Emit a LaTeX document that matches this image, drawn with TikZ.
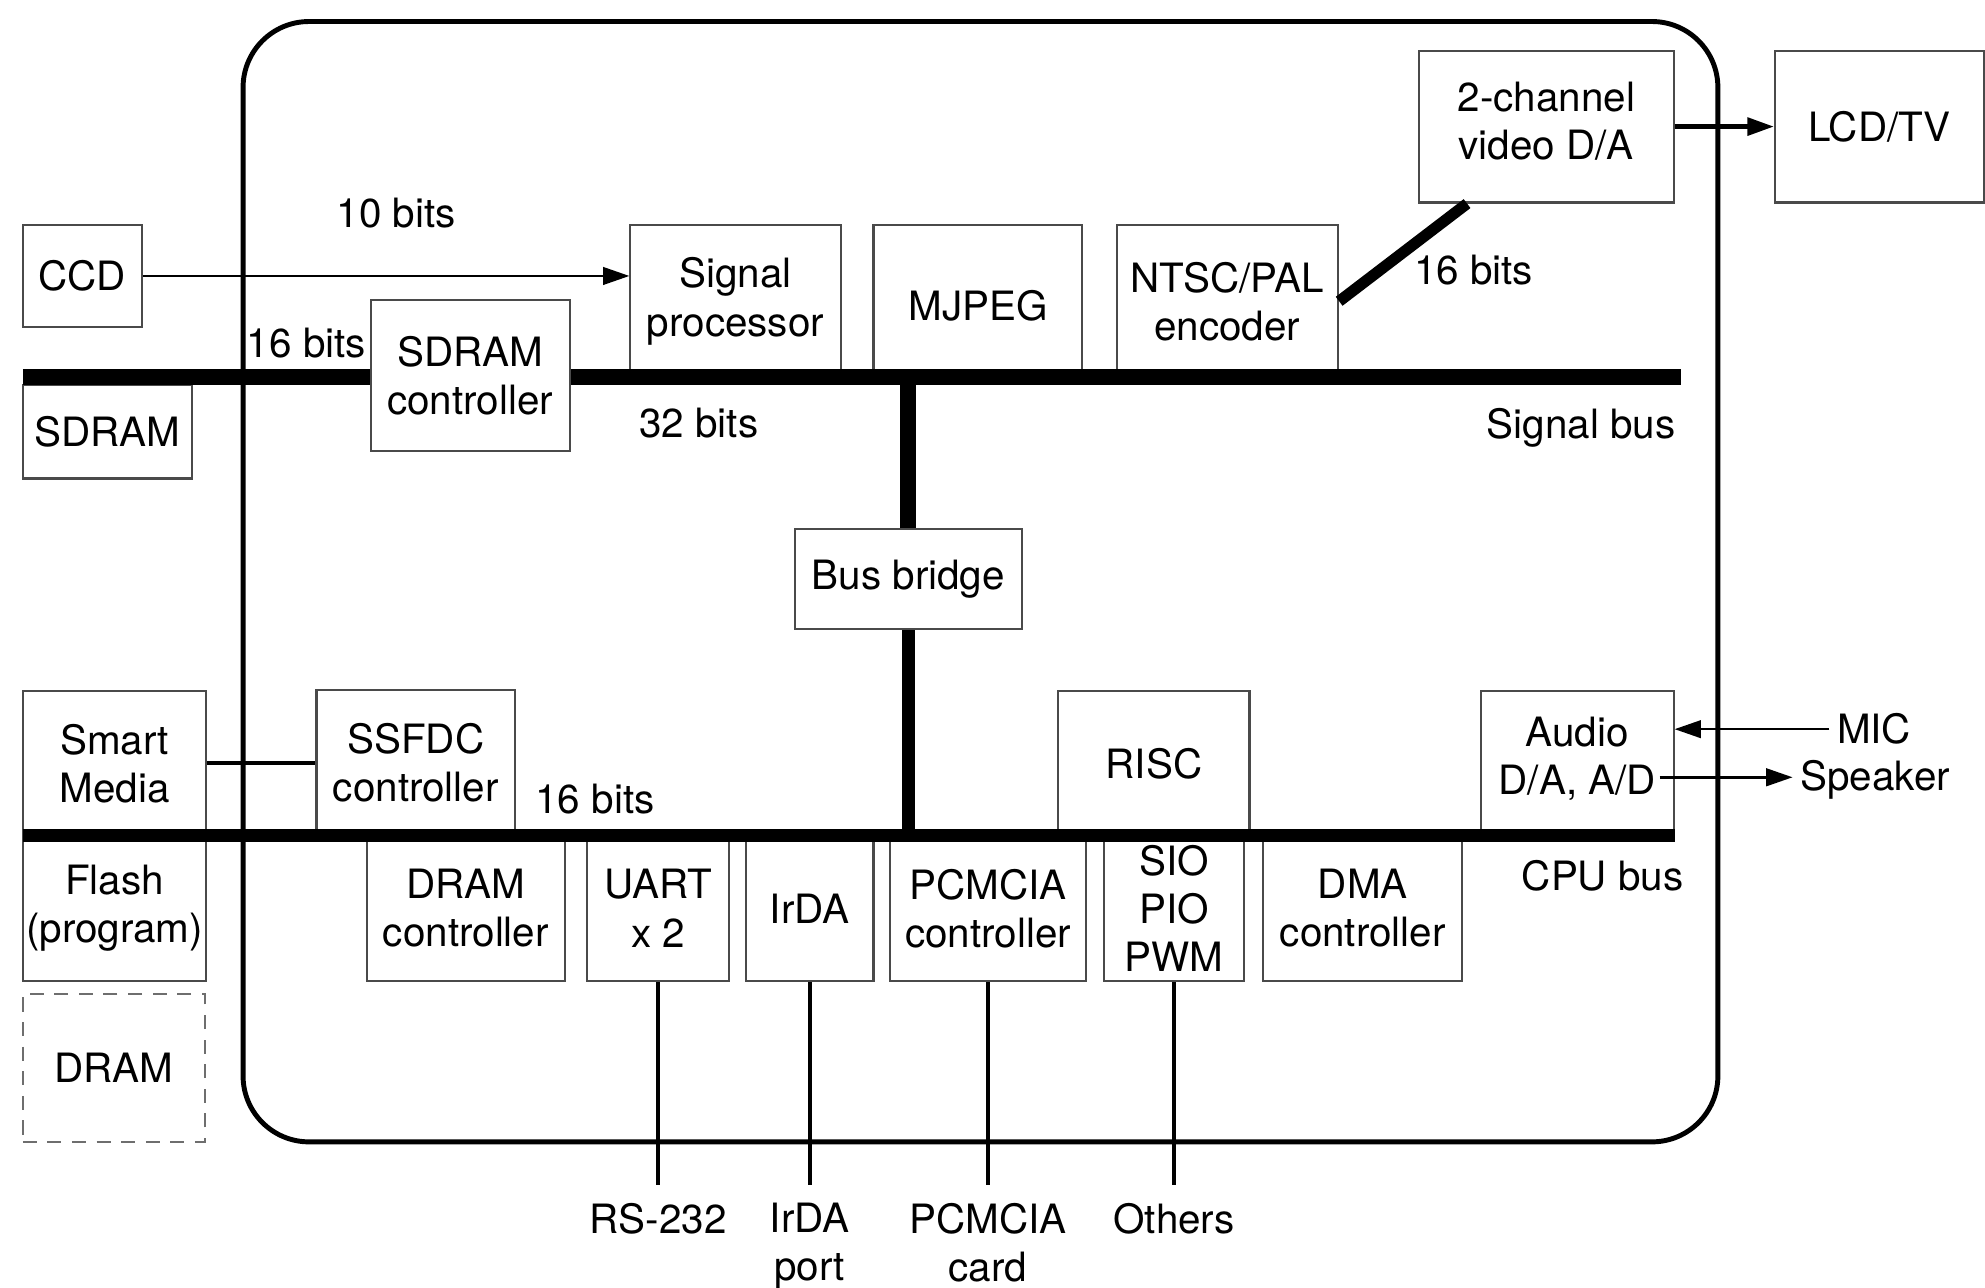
\documentclass[tikz,border=0pt]{standalone}
\usepackage{fontspec}
\setmainfont{TeX Gyre Heros}
\usepackage{xcolor}
\usetikzlibrary{arrows.meta,positioning,calc}
\definecolor{boxgray}{HTML}{4A4A4A}
\tikzset{
  blk/.style 2 args={draw=boxgray, line width=0.6pt, align=center, inner sep=0pt, minimum width=#1*0.01266cm, minimum height=#2*0.01266cm},
  chip/.style={line width=1.4pt, rounded corners=0.66cm},
  sigbus/.style={line width=4.5pt},
  cpubus/.style={line width=3.6pt},
  link16/.style={line width=3.2pt},
  wire/.style={line width=1.1pt},
  thinarrow/.style={-{Triangle[length=7.5pt,width=5pt]}, line width=0.7pt},
  bigarrow/.style={-{Triangle[length=7.5pt,width=5pt]}, line width=1.2pt},
  portlbl/.style={anchor=north, inner xsep=1pt, inner ysep=5pt, align=center}
}

\begin{document}
\begin{tikzpicture}[x=0.01266cm, y=-0.01266cm, font=\fontsize{11.5}{13.7}\selectfont]
  \useasboundingbox (0,0) rectangle (1568,1017);

  % Chip outline
  \draw[chip] (192,17) rectangle (1357,902);

  % Signal bus side
  \node[blk={94}{80}] (ccd) at (65,218) {CCD};
  \node[blk={134}{74}] (sdram) at (85,341) {SDRAM};
  \node[blk={157}{119}] (sdramc) at (371.5,296.5) {SDRAM\\controller};
  \node[blk={166}{120}] (sigproc) at (581,238) {Signal\\processor};
  \node[blk={165}{120}, text height=0.4cm] (mjpeg) at (772.5,238) {MJPEG};
  \node[blk={175}{120}] (ntsc) at (969.5,238) {NTSC/PAL\\encoder};
  \node[blk={201}{120}, text depth=0.12cm] (vdac) at (1221.5,100) {2-channel\\video D/A};
  \node[blk={165}{120}] (lcd) at (1484.5,100) {LCD/TV};
  \node[blk={179}{79}] (bridge) at (717.5,457.5) {Bus bridge};

  % CPU bus side
  \node[blk={145}{114}] (smart) at (90.5,603) {Smart\\Media};
  \node[blk={145}{115}] (flash) at (90.5,717.5) {Flash\\(program)};
  \node[blk={144}{117}, draw=boxgray!80, dash pattern=on 4pt off 3pt] (dram) at (90,843.5) {DRAM};
  \node[blk={157}{115}] (ssfdc) at (328.5,602.5) {SSFDC\\controller};
  \node[blk={151}{114}] (risc) at (911.5,603) {RISC};
  \node[blk={152}{114}, text depth=0.16cm] (audio) at (1246,603) {Audio\\D/A, A/D};
  \node[blk={156}{115}] (dramc) at (368,717.5) {DRAM\\controller};
  \node[blk={112}{115}] (uart) at (520,717.5) {UART\\x 2};
  \node[blk={101}{115}] (irda) at (639.5,717.5) {IrDA};
  \node[blk={155}{115}] (pcmcia) at (780.5,717.5) {PCMCIA\\controller};
  \node[blk={111}{115}] (sio) at (927.5,717.5) {SIO\\PIO\\PWM};
  \node[blk={157}{115}] (dma) at (1076.5,717.5) {DMA\\controller};

  % Buses
  \coordinate (sbusW) at (18,298);
  \coordinate (sbusE) at (1328,298);
  \coordinate (cbusW) at (18,660);
  \coordinate (cbusE) at (1323,660);
  \draw[sigbus] (sbusW) -- (sbusW -| sdramc.west);
  \draw[sigbus] (sbusW -| sdramc.east) -- (sbusE);
  \draw[cpubus] (cbusW) -- (cbusE);
  \draw[sigbus] (bridge.north) -- (bridge.north |- sbusW);
  \draw[cpubus] (bridge.south) -- (bridge.south |- cbusW);
  \draw[link16] (ntsc.east) -- ([xshift=0.49cm]vdac.south west);
  \draw[wire] (smart.east) -- (smart.east -| ssfdc.west);

  % Bus labels
  \node (b10) at (313,168) {10 bits};
  \node (b16s) at (242,271) {16 bits};
  \node (b32) at (552,334) {32 bits};
  \node (b16v) at (1164,213) {16 bits};
  \node (sbuslbl) at (1249,338) {Signal bus};
  \node (b16c) at (470,631) {16 bits};
  \node (cbuslbl) at (1266,692) {CPU bus};

  % Outside signals
  \draw[thinarrow] (ccd.east) -- (ccd.east -| sigproc.west);
  \draw[bigarrow] (vdac.east) -- (lcd.west);
  \node[anchor=west, inner xsep=2pt] (mic) at (1445,576) {MIC};
  \node[anchor=west, inner xsep=2pt] (spk) at (1416,616) {Speaker};
  \coordinate (spkout) at (1311,614);
  \draw[thinarrow] (mic.west) -- (mic.west -| audio.east);
  \draw[thinarrow] (spkout) -- (spkout -| spk.west);

  % Ports
  \node[portlbl, below=2.03cm of uart] (rs232) {RS-232};
  \node[portlbl, below=2.03cm of irda] (irdaport) {IrDA\\port};
  \node[portlbl, below=2.03cm of pcmcia] (card) {PCMCIA\\card};
  \node[portlbl, below=2.03cm of sio] (others) {Others};
  \foreach \src/\dst in {uart/rs232, irda/irdaport, pcmcia/card, sio/others} {
    \draw[wire] (\src) -- (\dst);
  }
\end{tikzpicture}
\end{document}
